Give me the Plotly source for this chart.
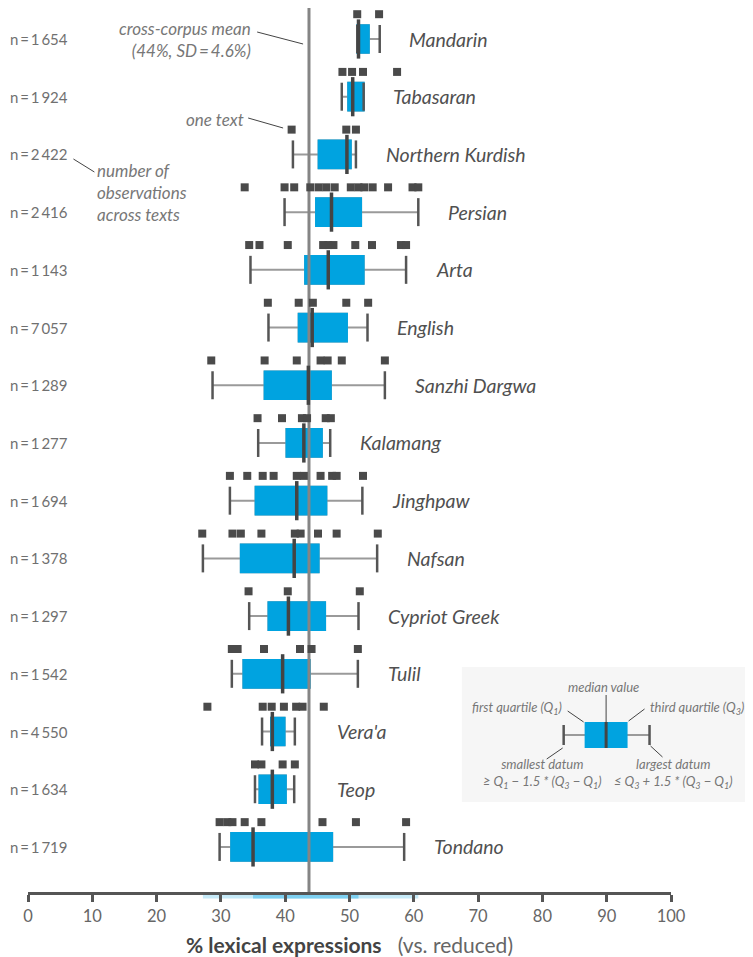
import plotly.graph_objects as go

# ---------------- data ----------------
languages = ["Mandarin", "Tabasaran", "Northern Kurdish", "Persian", "Arta", "English",
             "Sanzhi Dargwa", "Kalamang", "Jinghpaw", "Nafsan", "Cypriot Greek", "Tulil",
             "Vera'a", "Teop", "Tondano"]
n_obs = [1654, 1924, 2422, 2416, 1143, 7057, 1289, 1277, 1694, 1378, 1297, 1542, 4550, 1634, 1719]

lowerfence = [51.2, 48.8, 41.2, 39.9, 34.6, 37.4, 28.7, 35.8, 31.4, 27.2, 34.4, 31.7, 36.4, 35.3, 29.8]
q1         = [51.2, 49.8, 45.2, 44.8, 43.1, 42.1, 36.8, 40.2, 35.4, 33.1, 37.4, 33.5, 37.8, 36.0, 31.6]
median     = [51.4, 50.5, 49.6, 47.2, 46.7, 44.2, 43.6, 42.9, 41.8, 41.4, 40.5, 39.6, 38.0, 38.0, 35.0]
q3         = [53.0, 52.2, 50.2, 51.8, 52.2, 49.6, 47.1, 45.7, 46.4, 45.2, 46.2, 43.8, 39.9, 40.1, 47.3]
upperfence = [54.7, 52.2, 51.0, 60.7, 58.8, 52.8, 55.5, 47.0, 52.0, 54.3, 51.4, 51.3, 41.5, 41.4, 58.5]

texts_mandarin = [51.2, 54.6]
texts_tabasaran = [48.9, 50.4, 52.1, 57.4]
texts_kurdish = [41.0, 49.5, 51.0]
texts_persian = [33.7, 39.9, 41.4, 43.9, 45.2, 46.4, 47.7, 50.2, 51.4, 52.3, 53.6, 56.0, 59.8, 60.7]
texts_arta = [34.4, 36.0, 40.4, 45.9, 46.7, 47.5, 50.9, 53.5, 58.0, 58.8]
texts_english = [37.3, 42.1, 44.3, 49.5, 52.9]
texts_sanzhi = [28.5, 36.8, 41.8, 45.5, 46.6, 48.8, 55.5]
texts_kalamang = [35.7, 39.5, 42.6, 43.4, 46.3, 47.1]
texts_jinghpaw = [31.4, 34.1, 36.5, 38.2, 41.8, 42.9, 45.5, 47.3, 48.0, 52.1]
texts_nafsan = [27.1, 31.8, 33.1, 36.3, 41.5, 42.4, 45.1, 48.0, 54.4]
texts_cypriot = [34.3, 40.4, 51.6]
texts_tulil = [31.7, 32.6, 36.7, 42.3, 44.1, 51.3]
texts_veraa = [27.9, 36.5, 37.9, 39.8, 41.7, 42.7, 46.0]
texts_teop = [35.3, 36.3, 39.6, 41.5]
texts_tondano = [29.8, 31.0, 31.8, 33.7, 36.3, 45.8, 51.0, 58.8]

text_values = [texts_mandarin, texts_tabasaran, texts_kurdish, texts_persian, texts_arta,
               texts_english, texts_sanzhi, texts_kalamang, texts_jinghpaw, texts_nafsan,
               texts_cypriot, texts_tulil, texts_veraa, texts_teop, texts_tondano]

mean_value = 43.7
mean_sd = 4.6
x_ticks = [0, 10, 20, 30, 40, 50, 60, 70, 80, 90, 100]

# ---------------- styling / geometry ----------------
# the page body adds an 8px offset; figure is sized to fit the remaining window
OFF = 8
W, H = 753 - OFF, 957 - OFF
ML, MR, MT, MB = 27.5 - OFF, 81.5, 0, 65
PW = W - ML - MR
PH = H - MT - MB
ROW_PX = 57.71
FIRST_ROW_FIG = 39 - OFF

BLUE = "#00a3e0"
DARK = "#444444"
DOT = "#4a4a4a"
FONT = "Lato"

rows = [-i for i in range(len(languages))]
y_top = (FIRST_ROW_FIG - MT) / ROW_PX
y_bottom = -(H - MB - FIRST_ROW_FIG) / ROW_PX
box_w = 27.7 / ROW_PX
dot_off = 24.8 / ROW_PX


def px2x(px):  # page pixel -> paper x
    return (px - OFF - ML) / PW


def py2y(py):  # page pixel -> paper y
    return (H - MB - (py - OFF)) / PH


fig = go.Figure()

# whiskers (full box stats)
fig.add_trace(go.Box(
    y=rows, q1=q1, median=median, q3=q3, lowerfence=lowerfence, upperfence=upperfence,
    orientation="h", width=box_w, whiskerwidth=0, boxpoints=False,
    line=dict(color="#9a9a9a", width=2), fillcolor=BLUE, hoverinfo="skip", showlegend=False))
# clean blue box (covers outline)
fig.add_trace(go.Box(
    y=rows, q1=q1, median=q1, q3=q3, lowerfence=q1, upperfence=q3,
    orientation="h", width=box_w, whiskerwidth=0, boxpoints=False,
    line=dict(color=BLUE, width=2), fillcolor=BLUE, hoverinfo="skip", showlegend=False))

# mean line
fig.add_trace(go.Scatter(x=[mean_value, mean_value], y=[y_bottom, y_top], mode="lines",
                         line=dict(color="#858585", width=3), hoverinfo="skip", showlegend=False))

# whisker caps
cap_x = lowerfence + upperfence
cap_y = rows + rows
fig.add_trace(go.Scatter(x=cap_x, y=cap_y, mode="markers",
                         marker=dict(symbol="line-ns", size=20, line=dict(color="#555555", width=2.5)),
                         hoverinfo="skip", showlegend=False))

# individual texts
dx, dy = [], []
for r, vals in zip(rows, text_values):
    for v in vals:
        dx.append(v)
        dy.append(r + dot_off)
fig.add_trace(go.Scatter(x=dx, y=dy, mode="markers",
                         marker=dict(symbol="square", size=8, color=DOT, line=dict(width=0)),
                         hoverinfo="skip", showlegend=False))

# medians
fig.add_trace(go.Scatter(x=median, y=rows, mode="markers",
                         marker=dict(symbol="line-ns", size=28, line=dict(color=DARK, width=3.5)),
                         hoverinfo="skip", showlegend=False))

annotations = []
shapes = []

# language labels & n labels
label_gap = 4.3
label_min = 47.8
for lang, n, r, uf in zip(languages, n_obs, rows, upperfence):
    annotations.append(dict(x=max(uf + label_gap, label_min), y=r, xref="x", yref="y",
                            text=f"<i>{lang}</i>", showarrow=False, xanchor="left", yanchor="middle",
                            font=dict(family=FONT, size=19.5, color="#505050")))
    s = f"{n:,}".replace(",", "\u2009")
    annotations.append(dict(x=px2x(7), y=r, xref="paper", yref="y",
                            text=f"n\u2009=\u2009{s}", showarrow=False, xanchor="left", yanchor="middle",
                            font=dict(family=FONT, size=15, color="#707070")))

# range bands under the axis
shapes.append(dict(type="rect", xref="x", yref="paper", x0=min(lowerfence), x1=max(upperfence),
                   y0=py2y(898.5), y1=py2y(892), fillcolor="#c6eaf8", line=dict(width=0), layer="below"))
shapes.append(dict(type="rect", xref="x", yref="paper", x0=min(median), x1=max(median),
                   y0=py2y(898.5), y1=py2y(892), fillcolor="#7dcff0", line=dict(width=0), layer="below"))

note_font = dict(family=FONT, size=17, color="#777777")
# notes
annotations.append(dict(x=px2x(253), y=py2y(40), xref="paper", yref="paper",
                        text=f"<i>cross-corpus mean</i><br><i>({mean_value:.0f}%, SD\u2009=\u2009{mean_sd}%)</i>",
                        showarrow=False, xanchor="right", yanchor="middle", align="right", font=note_font))
annotations.append(dict(x=px2x(246), y=py2y(119), xref="paper", yref="paper",
                        text="<i>one text</i>", showarrow=False, xanchor="right", yanchor="middle", font=note_font))
annotations.append(dict(x=px2x(95), y=py2y(192), xref="paper", yref="paper",
                        text="<i>number of</i><br><i>observations</i><br><i>across texts</i>",
                        showarrow=False, xanchor="left", yanchor="middle", align="left", font=note_font))

lead = dict(color="#444444", width=1)
for (xa, ya, xb, yb) in [(257, 32, 303, 44), (248, 118, 283, 128), (73, 159, 94, 172)]:
    shapes.append(dict(type="line", xref="paper", yref="paper", x0=px2x(xa), y0=py2y(ya),
                       x1=px2x(xb), y1=py2y(yb), line=lead, layer="above"))

# explanatory legend panel
shapes.append(dict(type="rect", xref="paper", yref="paper", x0=px2x(462), x1=px2x(753),
                   y0=py2y(802), y1=py2y(667), fillcolor="#f6f6f6", line=dict(width=0), layer="below"))
shapes.append(dict(type="line", xref="paper", yref="paper", x0=px2x(564), x1=px2x(650),
                   y0=py2y(735), y1=py2y(735), line=dict(color="#9a9a9a", width=2)))
for cx in (564, 650):
    shapes.append(dict(type="line", xref="paper", yref="paper", x0=px2x(cx), x1=px2x(cx),
                       y0=py2y(725), y1=py2y(745), line=dict(color="#555555", width=2.5)))
shapes.append(dict(type="rect", xref="paper", yref="paper", x0=px2x(585), x1=px2x(628),
                   y0=py2y(748), y1=py2y(722), fillcolor=BLUE, line=dict(width=0)))
shapes.append(dict(type="line", xref="paper", yref="paper", x0=px2x(606.5), x1=px2x(606.5),
                   y0=py2y(748), y1=py2y(722), line=dict(color=DARK, width=3)))
for (xa, ya, xb, yb) in [(606.5, 695, 606.5, 722), (568, 711, 584, 722), (645, 709, 629, 721),
                         (563, 748, 547, 759), (651, 746, 663, 757)]:
    shapes.append(dict(type="line", xref="paper", yref="paper", x0=px2x(xa), y0=py2y(ya),
                       x1=px2x(xb), y1=py2y(yb), line=lead))

leg_font = dict(family=FONT, size=13, color="#777777")
leg_items = [
    (604, 687, "center", "<i>median value</i>"),
    (564, 708, "right", "<i>first quartile (Q<sub>1</sub>)</i>"),
    (648, 708, "left", "<i>third quartile (Q<sub>3</sub>)</i>"),
    (543, 773, "center", "<i>smallest datum</i><br><i>\u2265 Q<sub>1</sub> \u2212 1.5 * (Q<sub>3</sub> \u2212 Q<sub>1</sub>)</i>"),
    (674, 773, "center", "<i>largest datum</i><br><i>\u2264 Q<sub>3</sub> + 1.5 * (Q<sub>3</sub> \u2212 Q<sub>1</sub>)</i>"),
]
for (lx, ly, anc, t) in leg_items:
    annotations.append(dict(x=px2x(lx), y=py2y(ly), xref="paper", yref="paper", text=t,
                            showarrow=False, xanchor=anc, yanchor="middle", align="center", font=leg_font))

fig.update_layout(
    width=W, height=H,
    margin=dict(l=ML, r=MR, t=MT, b=MB, pad=0),
    plot_bgcolor="white", paper_bgcolor="white",
    boxmode="overlay",
    showlegend=False,
    annotations=annotations,
    shapes=shapes,
    font=dict(family=FONT),
    xaxis=dict(range=[0, 100], tickvals=x_ticks, showgrid=False, zeroline=False,
               showline=True, linecolor="#555555", linewidth=2.5,
               ticks="outside", ticklen=7, tickwidth=2.5, tickcolor="#555555",
               tickfont=dict(family=FONT, size=16.5, color="#666666"),
               title=dict(text="<b>% lexical expressions</b>   <span style='color:#666'>(vs. reduced)</span>",
                          font=dict(family=FONT, size=21, color="#444444"), standoff=18),
               fixedrange=True),
    yaxis=dict(range=[y_bottom, y_top], showgrid=False, zeroline=False, showline=False,
               showticklabels=False, ticks="", fixedrange=True),
)

fig.write_html("out.html")
